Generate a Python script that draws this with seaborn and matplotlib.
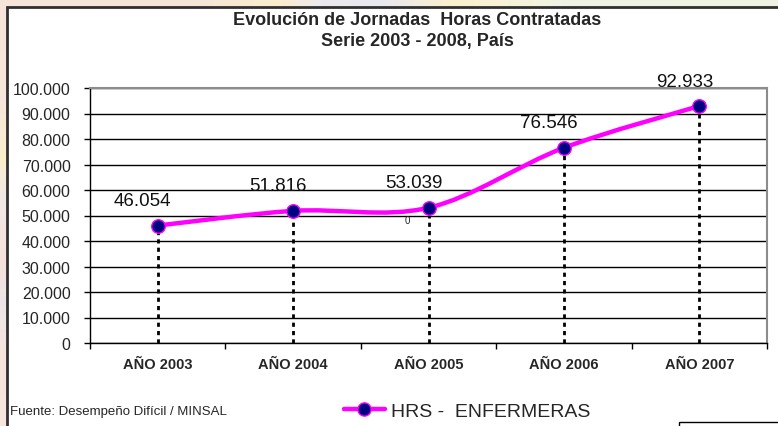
import numpy as np
import pandas as pd
import matplotlib
matplotlib.use("Agg")
import matplotlib.pyplot as plt
import seaborn as sns
from matplotlib.path import Path
from matplotlib.patches import PathPatch, Rectangle
from matplotlib.lines import Line2D
from matplotlib.ticker import FuncFormatter, MultipleLocator, FixedLocator

# Data
years = ["AÑO 2003", "AÑO 2004", "AÑO 2005", "AÑO 2006", "AÑO 2007"]
horas = [46054, 51816, 53039, 76546, 92933]
serie = "HRS -  ENFERMERAS"
titulo = "Evolución de Jornadas  Horas Contratadas\nSerie 2003 - 2008, País"
fuente = "Fuente: Desempeño Difícil / MINSAL"

df = pd.DataFrame({"year": years, "horas": horas, "pos": range(len(years))})

sns.set_style("white")
plt.rcParams["font.family"] = ["Liberation Sans", "DejaVu Sans"]
narrow = ["Liberation Sans Narrow", "Liberation Sans", "DejaVu Sans"]

W, H = 778, 427
fig = plt.figure(figsize=(W / 100, H / 100), dpi=100)

# slide background peeking out on top/left
bg = fig.add_axes([0, 0, 1, 1], zorder=-10)
img = np.ones((H, W, 3))
hx = [0, 200, 280, 320, 380, 450, 500, 560, 778]
hc = np.array([[246, 228, 218], [247, 230, 214], [251, 236, 206], [236, 234, 238],
               [232, 232, 240], [250, 240, 205], [248, 242, 215], [240, 244, 228], [238, 243, 226]]) / 255
for k in range(3):
    img[:, :, k] = np.interp(np.arange(W), hx, hc[:, k])[None, :]
vy = [0, 100, 160, 200, 260, 300, 360, 427]
vc = np.array([[246, 228, 218], [247, 230, 220], [250, 238, 205], [240, 232, 230],
               [246, 226, 220], [236, 230, 232], [245, 228, 220], [246, 230, 222]]) / 255
for k in range(3):
    img[9:, :8, k] = np.interp(np.arange(9, H), vy, vc[:, k])[:, None]
bg.imshow(img, aspect="auto", extent=[0, W, H, 0])
bg.set_xlim(0, W)
bg.set_ylim(H, 0)
bg.axis("off")

# chart frame
bg.add_patch(Rectangle((7, 8), W + 10, H + 10, facecolor="white", edgecolor="#303030", lw=2))
# stray box at bottom right
bg.add_patch(Rectangle((679, 423), 120, 20, facecolor="white", edgecolor="black", lw=1))

ax = fig.add_axes([90 / W, 1 - 344 / H, (767 - 90) / W, (344 - 89) / H])
ax.set_facecolor("white")

# gridlines
ax.set_ylim(0, 100000)
ax.set_xlim(-0.5, len(years) - 0.5)
ax.yaxis.set_major_locator(MultipleLocator(10000))
ax.yaxis.set_major_formatter(FuncFormatter(lambda v, p: f"{int(v):,}".replace(",", ".")))
ax.grid(axis="y", color="black", lw=1)
ax.set_axisbelow(True)
for s in ["top", "right"]:
    ax.spines[s].set_color("#8c8c8c")
    ax.spines[s].set_linewidth(1.5)
for s in ["left", "bottom"]:
    ax.spines[s].set_color("black")
    ax.spines[s].set_linewidth(1)

# x ticks at category boundaries, labels at centres
ax.xaxis.set_major_locator(FixedLocator(np.arange(-0.5, len(years), 1.0)))
ax.xaxis.set_major_formatter(FuncFormatter(lambda v, p: ""))
ax.xaxis.set_minor_locator(FixedLocator(df["pos"]))
ax.set_xticklabels(years, minor=True)
ax.tick_params(axis="x", which="major", length=4, width=1, color="black", direction="out", bottom=True)
ax.tick_params(axis="x", which="minor", length=0, pad=10)
for t in ax.get_xticklabels(minor=True):
    t.set_fontfamily(narrow)
    t.set_fontweight("bold")
    t.set_fontsize(10.5)
ax.tick_params(axis="y", length=4, width=1, color="black", direction="out", left=True, pad=10, labelsize=11.5)

# drop lines
ax.vlines(df["pos"], 0, df["horas"], colors="black", linestyles=(0, (1.5, 1.5)), lw=2, zorder=3)

# smoothed line (excel-like bezier through the points)
pts = df[["pos", "horas"]].to_numpy(dtype=float)
ext = np.vstack([pts[0], pts, pts[-1]])
verts = [tuple(pts[0])]
codes = [Path.MOVETO]
for i in range(len(pts) - 1):
    p0, p1, p2, p3 = ext[i], ext[i + 1], ext[i + 2], ext[i + 3]
    c1 = p1 + (p2 - p0) / 6
    c2 = p2 - (p3 - p1) / 6
    verts += [tuple(c1), tuple(c2), tuple(p2)]
    codes += [Path.CURVE4] * 3
ax.add_patch(PathPatch(Path(verts, codes), facecolor="none", edgecolor="#ff00ff", lw=3.2, zorder=4))

sns.scatterplot(data=df, x="pos", y="horas", ax=ax, s=95, color="#000080",
                edgecolor="#ff00ff", linewidth=1, zorder=5, legend=False)
ax.set_xlabel("")
ax.set_ylabel("")

for _, r in df.iterrows():
    ax.annotate(f"{r['horas']:,}".replace(",", "."), xy=(r["pos"], r["horas"]),
                xytext=(-15, 25), textcoords="offset pixels", ha="center", va="center",
                fontsize=13.5, color="#111111", zorder=6)

ax.text(1.84, 48300, "0", fontsize=7, ha="center", va="center")

fig.text(417 / W, 1 - 31 / H, titulo, ha="center", va="center", fontsize=13,
         fontweight="bold", linespacing=1.3)
fig.text(10 / W, 1 - 412 / H, fuente, ha="left", va="center", fontsize=9.5, family=narrow)

h = Line2D([], [], color="#ff00ff", lw=3.2, marker="o", markersize=9.5,
           markerfacecolor="#000080", markeredgecolor="#ff00ff")
fig.legend(handles=[h], labels=[serie], loc="center", bbox_to_anchor=(467 / W, 1 - 412 / H),
           frameon=False, fontsize=14, handlelength=2.1, handletextpad=0.3)

fig.savefig("out.png", dpi=100)
